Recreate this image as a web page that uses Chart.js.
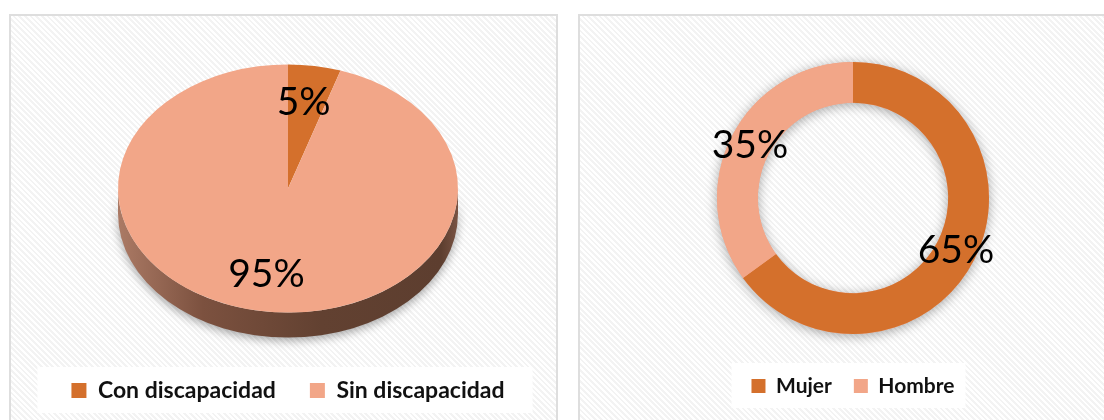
<!DOCTYPE html>
<html>
<head>
<meta charset="utf-8">
<script src="https://cdn.jsdelivr.net/npm/chart.js@4.4.1/dist/chart.umd.min.js"></script>
<style>
  html, body { margin: 0; padding: 0; background: #fff; width: 1104px; height: 420px; overflow: hidden; position: relative; }
  .panel { position: absolute; top: 14px; height: 430px; border: 2px solid #dedede; box-sizing: border-box;
           background: repeating-linear-gradient(45deg, #fff 0 2px, #f3f3f3 2px 4px); }
  #p1 { left: 9px; width: 549px; }
  #p2 { left: 578px; width: 540px; }
  canvas { position: absolute; top: 0; }
  #c1 { left: 0; }
  #c2 { left: 560px; }
</style>
</head>
<body>
<div class="panel" id="p1"></div>
<div class="panel" id="p2"></div>
<canvas id="c1" width="560" height="420"></canvas>
<canvas id="c2" width="544" height="420"></canvas>
<script>
  const discLabels = ['Con discapacidad', 'Sin discapacidad'];
  const discValues = [5, 95];
  const sexLabels = ['Mujer', 'Hombre'];
  const sexValues = [65, 35];

  const darkOrange = '#d4702c';
  const salmon = '#f2a688';

  // tilted pie: draws the brown side, then squashes the arcs into an ellipse
  const pie3d = {
    id: 'pie3d',
    beforeDatasetsDraw(chart, args, opts) {
      const arc = chart.getDatasetMeta(0).data[0];
      const x = arc.x, y = arc.y, r = arc.outerRadius;
      const ry = r * opts.squash, d = opts.depth;
      const ctx = chart.ctx;
      ctx.save();
      ctx.shadowColor = 'rgba(0,0,0,0.35)';
      ctx.shadowBlur = 10;
      ctx.shadowOffsetY = 3;
      const g = ctx.createLinearGradient(x - r, 0, x + r, 0);
      g.addColorStop(0, '#ab7a65');
      g.addColorStop(0.25, '#7c513f');
      g.addColorStop(0.6, '#624131');
      g.addColorStop(0.95, '#5d3e2f');
      g.addColorStop(1, '#7a5444');
      ctx.fillStyle = g;
      ctx.beginPath();
      ctx.ellipse(x, y, r, ry, 0, 0, Math.PI);
      ctx.lineTo(x - r, y + d);
      ctx.ellipse(x, y + d, r, ry, 0, Math.PI, 0, true);
      ctx.closePath();
      ctx.fill();
      ctx.restore();
      ctx.save();
      ctx.translate(x, y);
      ctx.scale(1, opts.squash);
      ctx.translate(-x, -y);
    },
    afterDatasetsDraw(chart) {
      chart.ctx.restore();
    }
  };

  // soft shadow under the ring
  const ringShadow = {
    id: 'ringShadow',
    beforeDatasetsDraw(chart) {
      const arc = chart.getDatasetMeta(0).data[0];
      const ctx = chart.ctx;
      ctx.save();
      ctx.shadowColor = 'rgba(0,0,0,0.35)';
      ctx.shadowBlur = 12;
      ctx.shadowOffsetY = 2;
      ctx.fillStyle = salmon;
      ctx.beginPath();
      ctx.arc(arc.x, arc.y, arc.outerRadius, 0, Math.PI * 2);
      ctx.arc(arc.x, arc.y, arc.innerRadius, 0, Math.PI * 2, true);
      ctx.fill();
      ctx.restore();
    }
  };

  const pctLabels = {
    id: 'pctLabels',
    afterDatasetsDraw(chart, args, opts) {
      const ctx = chart.ctx;
      const vals = chart.data.datasets[0].data;
      const total = vals.reduce((a, b) => a + b, 0);
      ctx.save();
      ctx.font = '39px Lato';
      ctx.fillStyle = '#000';
      ctx.textAlign = 'center';
      ctx.textBaseline = 'middle';
      chart.getDatasetMeta(0).data.forEach((arc, i) => {
        const mid = (arc.startAngle + arc.endAngle) / 2;
        const rr = arc.innerRadius + (arc.outerRadius - arc.innerRadius) * opts.pos;
        const px = arc.x + Math.cos(mid) * rr;
        const py = arc.y + Math.sin(mid) * rr * (opts.squash || 1);
        ctx.fillText(Math.round(vals[i] / total * 100) + '%', px - (opts.shiftX || 0), py);
      });
      ctx.restore();
    }
  };

  // white plate behind the legend
  const legendPlate = {
    id: 'legendPlate',
    beforeDraw(chart, args, opts) {
      const boxes = chart.legend.legendHitBoxes;
      if (!boxes || !boxes.length) return;
      const l = Math.min(...boxes.map(b => b.left)) - opts.padL;
      const r = Math.max(...boxes.map(b => b.left + b.width)) + opts.padR;
      const cy = boxes[0].top + boxes[0].height / 2;
      const ctx = chart.ctx;
      ctx.save();
      ctx.fillStyle = '#fff';
      ctx.fillRect(l, cy - opts.up, r - l, opts.up + opts.down);
      ctx.restore();
    }
  };

  function legendOpts(size, gap, box) {
    return {
      position: 'bottom',
      labels: {
        boxWidth: box, boxHeight: box, padding: gap, color: '#111',
        font: { family: 'Lato', size: size, weight: 'bold' }
      }
    };
  }

  new Chart(document.getElementById('c1'), {
    type: 'pie',
    data: {
      labels: discLabels,
      datasets: [{ data: discValues, backgroundColor: [darkOrange, salmon], borderWidth: 0, radius: 170, clip: false }]
    },
    options: {
      responsive: false,
      animation: false,
      layout: { padding: { left: 16, right: 0, top: 32, bottom: 8 } },
      plugins: {
        legend: legendOpts(23, 34, 15),
        tooltip: { enabled: false },
        pie3d: { squash: 0.73, depth: 25 },
        pctLabels: { pos: 0.7, squash: 0.73, shiftX: 3 },
        legendPlate: { padL: 34, padR: 28, up: 23.5, down: 22.5 }
      }
    },
    plugins: [legendPlate, pie3d, pctLabels]
  });

  new Chart(document.getElementById('c2'), {
    type: 'doughnut',
    data: {
      labels: sexLabels,
      datasets: [{ data: sexValues, backgroundColor: [darkOrange, salmon], borderWidth: 0, radius: 136, cutout: '70%' }]
    },
    options: {
      responsive: false,
      animation: false,
      layout: { padding: { left: 42, right: 0, top: 42.5, bottom: 13.5 } },
      plugins: {
        legend: legendOpts(21, 22, 14),
        tooltip: { enabled: false },
        pctLabels: { pos: 0.5 },
        legendPlate: { padL: 20, padR: 11, up: 23, down: 22 }
      }
    },
    plugins: [legendPlate, ringShadow, pctLabels]
  });
</script>
</body>
</html>
